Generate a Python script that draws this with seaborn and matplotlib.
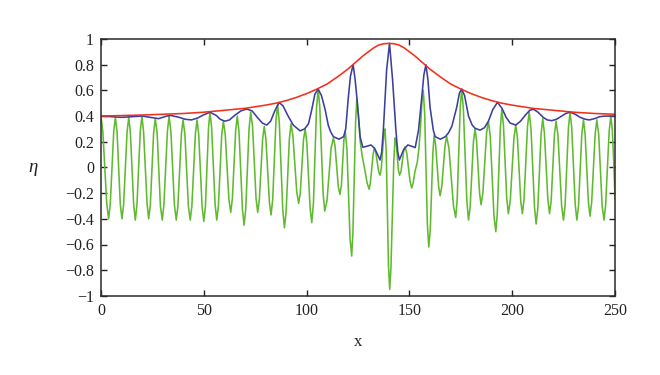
import seaborn as sns
import matplotlib.pyplot as plt

# values
green_x = [0.0, 0.9, 2.8, 3.7, 4.5, 6.2, 7.0, 7.8, 9.4, 10.2, 11.0, 12.7, 13.5, 14.3, 15.9, 16.7, 17.5, 19.1, 19.9,
           20.7, 22.4, 23.2, 24.0, 25.6, 26.4, 27.3, 28.9, 29.8, 30.6, 32.3, 33.1, 34.0, 35.7, 36.6, 37.4, 39.1, 39.9,
           40.8, 42.5, 43.4, 44.2, 45.9, 46.7, 47.5, 49.2, 50.0, 50.8, 52.3, 53.0, 53.8, 55.5, 56.3, 57.1, 58.7, 59.5,
           60.4, 62.2, 63.1, 63.9, 65.5, 66.3, 67.1, 68.8, 69.6, 70.4, 72.0, 72.8, 73.7, 75.4, 76.2, 77.0, 78.6, 79.4,
           80.2, 81.9, 82.7, 83.5, 85.1, 85.9, 86.7, 88.4, 89.2, 90.0, 91.6, 92.4, 93.3, 95.2, 96.1, 96.9, 98.5, 99.3,
           100.1, 101.7, 102.5, 103.3, 104.8, 105.6, 106.4, 108.0, 108.8, 109.9, 111.9, 113.0, 113.8, 115.4, 116.2,
           116.9, 118.1, 118.8, 119.6, 121.1, 121.9, 122.5, 123.8, 124.4, 125.2, 126.0, 127.0, 128.3, 129.4, 130.4,
           131.0, 132.3, 132.9, 133.6, 135.0, 135.7, 136.3, 137.5, 138.1, 138.7, 139.8, 140.4, 141.0, 142.4, 143.0,
           143.6, 144.6, 145.2, 145.9, 147.2, 147.9, 148.7, 150.3, 151.1, 151.8, 152.7, 153.8, 154.6, 155.4, 156.1,
           156.7, 157.4, 158.7, 159.4, 160.1, 161.4, 162.0, 162.7, 164.2, 164.9, 165.7, 167.3, 168.1, 169.2, 171.4,
           172.5, 173.2, 174.7, 175.4, 176.2, 177.9, 178.7, 179.5, 181.1, 181.9, 182.6, 184.1, 184.8, 185.7, 187.5,
           188.4, 189.3, 191.1, 192.0, 192.7, 194.2, 194.9, 195.7, 197.3, 198.1, 199.0, 200.8, 201.7, 202.5, 204.1,
           204.9, 205.7, 207.4, 208.2, 209.1, 210.8, 211.6, 212.4, 214.0, 214.8, 215.6, 217.3, 218.1, 218.9, 220.5,
           221.3, 222.2, 224.0, 224.9, 225.7, 227.3, 228.1, 228.9, 230.6, 231.4, 232.2, 233.8, 234.6, 235.4, 237.0,
           237.8, 238.6, 240.3, 241.1, 242.0, 243.7, 244.6, 245.4, 247.1, 247.9, 248.6, 249.3, 250.0]
green_y = [0.40, 0.28, -0.28, -0.40, -0.29, 0.28, 0.39, 0.28, -0.29, -0.40, -0.29, 0.28, 0.39, 0.27, -0.29, -0.41,
           -0.29, 0.28, 0.40, 0.28, -0.28, -0.40, -0.29, 0.27, 0.38, 0.27, -0.30, -0.41, -0.29, 0.28, 0.40, 0.28,
           -0.29, -0.41, -0.30, 0.26, 0.37, 0.26, -0.30, -0.41, -0.30, 0.26, 0.37, 0.26, -0.31, -0.42, -0.30, 0.31,
           0.43, 0.31, -0.29, -0.41, -0.30, 0.25, 0.36, 0.26, -0.25, -0.35, -0.24, 0.29, 0.40, 0.28, -0.33, -0.45,
           -0.32, 0.30, 0.43, 0.32, -0.24, -0.35, -0.25, 0.22, 0.32, 0.22, -0.27, -0.37, -0.25, 0.37, 0.49, 0.35,
           -0.33, -0.47, -0.35, 0.22, 0.34, 0.25, -0.19, -0.28, -0.20, 0.22, 0.30, 0.19, -0.32, -0.43, -0.28, 0.46,
           0.61, 0.47, -0.20, -0.34, -0.26, 0.15, 0.23, 0.17, -0.15, -0.21, -0.14, 0.21, 0.28, 0.14, -0.55, -0.69,
           -0.51, 0.35, 0.53, 0.40, 0.21, 0.09, -0.02, -0.12, -0.17, -0.12, 0.10, 0.15, 0.12, -0.03, -0.06, -0.01,
           0.25, 0.30, 0.12, -0.77, -0.95, -0.78, 0.06, 0.23, 0.19, -0.02, -0.06, -0.03, 0.13, 0.16, 0.11, -0.11,
           -0.16, -0.12, -0.03, 0.04, 0.15, 0.32, 0.52, 0.60, 0.42, -0.44, -0.62, -0.49, 0.12, 0.25, 0.18, -0.15,
           -0.22, -0.15, 0.17, 0.24, 0.15, -0.30, -0.39, -0.25, 0.47, 0.61, 0.46, -0.26, -0.41, -0.31, 0.20, 0.30,
           0.21, -0.20, -0.29, -0.20, 0.27, 0.36, 0.24, -0.38, -0.50, -0.36, 0.31, 0.45, 0.33, -0.24, -0.36, -0.26,
           0.23, 0.33, 0.23, -0.26, -0.36, -0.25, 0.32, 0.43, 0.30, -0.31, -0.44, -0.32, 0.26, 0.38, 0.27, -0.25,
           -0.36, -0.26, 0.26, 0.36, 0.25, -0.30, -0.41, -0.29, 0.31, 0.43, 0.31, -0.29, -0.41, -0.30, 0.26, 0.37,
           0.26, -0.27, -0.38, -0.27, 0.26, 0.37, 0.26, -0.30, -0.41, -0.29, 0.28, 0.40, 0.30, 0.05, -0.25]

blue_x = [0, 5, 10, 15, 20, 24, 28, 32, 34, 38, 41, 44, 47, 50, 53, 56, 58, 60.2, 62.5, 65, 68, 70.9, 73.5, 76,
          78.5, 80.6, 82.5, 84.5, 86.6, 88.5, 91, 93.5, 96.8, 99, 100.9, 102.5, 104, 105.6, 107.2, 109, 110.5,
          111.6, 113, 115.7, 118, 119, 120.3, 121.3, 122.6, 123.6, 124.7, 126, 127.3, 129.3, 131.3, 133, 134.5,
          135.7, 136.5, 137.3, 138.9, 140.3, 141.8, 143.4, 144.3, 145.1, 147.2, 149.2, 151, 152.8, 154.4, 156,
          157, 158, 159, 160, 161.6, 162.5, 165, 167.5, 169, 170.6, 173, 174.3, 175.4, 176.8, 178.7, 180.5, 181.9,
          184.3, 186.5, 188.4, 190.5, 192.8, 195, 197, 199, 201.7, 204, 206.5, 208.5, 210.3, 212.5, 215, 217,
          219.2, 221.5, 224, 226, 228.1, 230.5, 233, 235.5, 237.5, 240, 242.5, 245, 250]
blue_y = [0.40, 0.395, 0.39, 0.395, 0.40, 0.39, 0.38, 0.40, 0.405, 0.39, 0.375, 0.37, 0.385, 0.41, 0.43, 0.405,
          0.375, 0.36, 0.37, 0.405, 0.44, 0.455, 0.44, 0.39, 0.345, 0.33, 0.36, 0.44, 0.505, 0.48, 0.40, 0.33,
          0.285, 0.30, 0.34, 0.45, 0.57, 0.61, 0.56, 0.45, 0.33, 0.28, 0.24, 0.22, 0.24, 0.30, 0.55, 0.71, 0.80,
          0.68, 0.50, 0.24, 0.157, 0.165, 0.175, 0.15, 0.10, 0.058, 0.12, 0.29, 0.76, 0.966, 0.68, 0.29, 0.12,
          0.058, 0.14, 0.175, 0.165, 0.155, 0.29, 0.55, 0.72, 0.80, 0.68, 0.47, 0.29, 0.24, 0.22, 0.24, 0.27,
          0.32, 0.47, 0.58, 0.61, 0.56, 0.40, 0.33, 0.305, 0.29, 0.31, 0.36, 0.45, 0.507, 0.46, 0.39, 0.345,
          0.33, 0.36, 0.41, 0.445, 0.453, 0.43, 0.39, 0.37, 0.364, 0.375, 0.40, 0.42, 0.43, 0.415, 0.39, 0.375,
          0.37, 0.38, 0.395, 0.40, 0.40]

red_x = [0, 20, 40, 50, 60, 70, 80, 85, 90, 95, 100, 105, 110, 115, 120, 122.5, 125, 127.5, 130, 132.5, 135,
         137.5, 140, 142.5, 145, 147.5, 150, 152.5, 155, 157.5, 160, 165, 170, 175, 180, 185, 190, 195, 200, 210,
         220, 230, 240, 250]
red_y = [0.40, 0.408, 0.42, 0.43, 0.445, 0.46, 0.485, 0.50, 0.52, 0.545, 0.575, 0.61, 0.65, 0.705, 0.765, 0.80,
         0.835, 0.87, 0.90, 0.93, 0.953, 0.963, 0.966, 0.963, 0.953, 0.93, 0.90, 0.87, 0.835, 0.80, 0.765, 0.705,
         0.65, 0.61, 0.575, 0.545, 0.52, 0.50, 0.485, 0.46, 0.445, 0.43, 0.42, 0.414]

x_ticks = [0, 50, 100, 150, 200, 250]
x_tick_labels = ['0', '50', '100', '150', '200', '250']
y_ticks = [-1, -0.8, -0.6, -0.4, -0.2, 0, 0.2, 0.4, 0.6, 0.8, 1]
y_tick_labels = ['\u22121', '\u22120.8', '\u22120.6', '\u22120.4', '\u22120.2', '0',
                 '0.2', '0.4', '0.6', '0.8', '1']

sns.set_style("ticks")
plt.rcParams['font.family'] = ['Liberation Serif', 'DejaVu Serif']

fig = plt.figure(figsize=(6.6, 3.75), dpi=100)
ax = fig.add_axes([0.153, 0.211, 0.779, 0.685])

sns.lineplot(x=green_x, y=green_y, ax=ax, color='#60ba30', linewidth=1.15, estimator=None, sort=False)
sns.lineplot(x=blue_x, y=blue_y, ax=ax, color='#3d3f9c', linewidth=1.15, estimator=None, sort=False)
sns.lineplot(x=red_x, y=red_y, ax=ax, color='#f2301c', linewidth=1.15, estimator=None, sort=False)

ax.set_xlim(0, 250)
ax.set_ylim(-1, 1)
ax.set_xticks(x_ticks)
ax.set_xticklabels(x_tick_labels)
ax.set_yticks(y_ticks)
ax.set_yticklabels(y_tick_labels)
ax.tick_params(direction='in', top=True, right=True, length=4, width=1, labelsize=11.5,
               colors='#222222', pad=5)
for s in ax.spines.values():
    s.set_linewidth(1.1)
    s.set_color('#2a2a2a')

ax.set_xlabel('x', fontsize=12, color='#222222')
ax.xaxis.set_label_coords(0.5, -0.15)
ax.set_ylabel('\u03b7', fontsize=13.5, fontstyle='italic', rotation=0, color='#222222', va='center')
ax.yaxis.set_label_coords(-0.132, 0.5)

fig.savefig('out.png', dpi=100)
